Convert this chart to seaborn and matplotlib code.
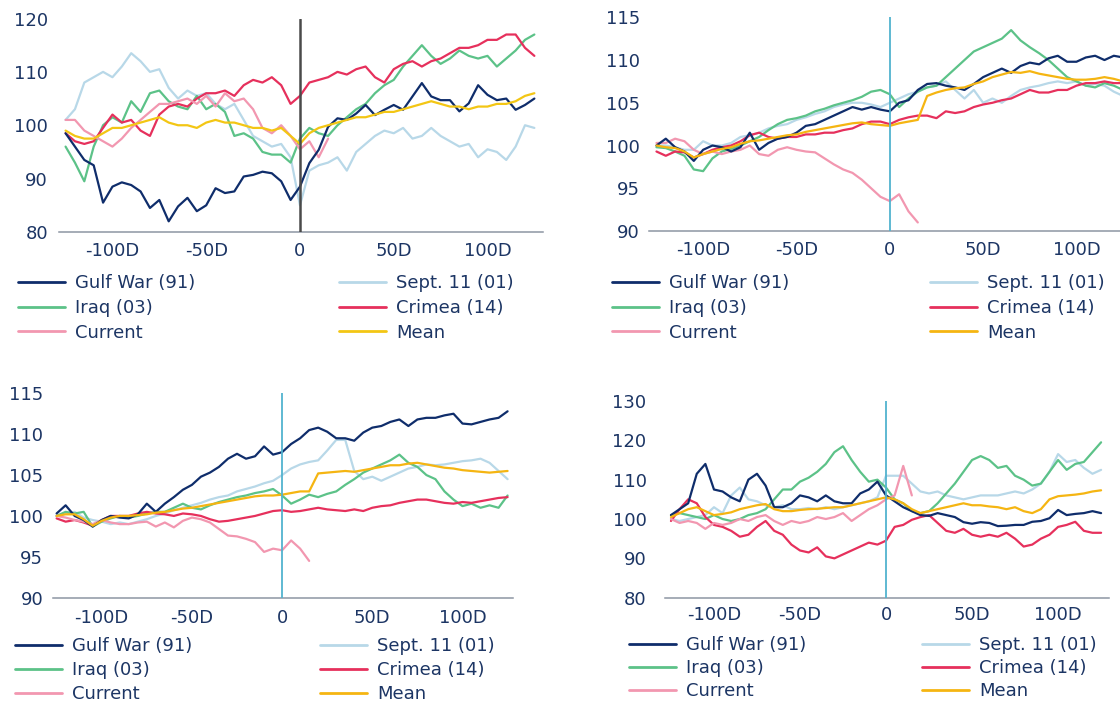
import pandas as pd
import seaborn as sns
import matplotlib.pyplot as plt
from matplotlib.lines import Line2D

sns.set_style("white")
plt.rcParams['font.family'] = ['DejaVu Sans']

# trading days around the event, read every 5 days
days = list(range(-125, 130, 5))
cur_days = list(range(-125, 20, 5))
xtick_pos = [-100, -50, 0, 50, 100]
xtick_lab = ['-100D', '-50D', '0', '50D', '100D']

# ---- panel 1 (top left)
p1_gulf = [98.5, 96.0, 93.5, 92.5, 85.5, 88.5, 89.3, 88.8, 87.6, 84.5,
           86.0, 82.0, 84.8, 86.4, 83.9, 85.0, 88.2, 87.3, 87.6, 90.4,
           90.7, 91.3, 91.0, 89.5, 86.0, 88.5, 92.9, 95.4, 99.7, 101.3,
           101.0, 102.2, 103.8, 101.9, 102.9, 103.8, 102.9, 105.4, 107.9, 105.4,
           104.7, 104.7, 102.6, 104.1, 107.5, 105.7, 104.7, 105.0, 102.9, 103.8,
           105.0]
p1_sept = [101, 103, 108, 109, 110, 109, 111, 113.5, 112, 110,
           110.5, 107, 105, 106.5, 105.5, 106, 104, 103, 104, 101,
           98, 97, 96, 96.5, 94, 85, 91.5, 92.5, 93, 94,
           91.5, 95, 96.5, 98, 99, 98.5, 99.5, 97.5, 98, 99.5,
           98, 97, 96, 96.5, 94, 95.5, 95, 93.5, 96, 100,
           99.5]
p1_iraq = [96, 93, 89.5, 96, 100, 101.5, 100.5, 104.5, 102.5, 106,
           106.5, 104.5, 103.5, 103, 105.5, 103, 104, 102.5, 98, 98.5,
           97.5, 95, 94.5, 94.5, 93, 97.5, 99.5, 98.5, 98, 100,
           101.5, 103, 104, 106, 107.5, 108.5, 111, 113, 115, 113,
           111.5, 112.5, 114, 113, 112.5, 113, 111, 112.5, 114, 116,
           117]
p1_crimea = [98.5, 97, 96.5, 97, 99.5, 102, 100.5, 101, 99, 98,
             102, 103.5, 104, 103.5, 105, 106, 106, 106.5, 105.5, 107.5,
             108.5, 108, 109, 107.5, 104, 105.5, 108, 108.5, 109, 110,
             109.5, 110.5, 111, 109, 108, 110.5, 111.5, 112, 111, 112,
             112.5, 113.5, 114.5, 114.5, 115, 116, 116, 117, 117, 114.5,
             113]
p1_current = [101, 101, 99, 98, 97, 96, 97.5, 99.5, 101, 102.5,
              104, 104, 104.5, 105, 104, 105.5, 103.5, 106, 104.5, 105,
              103, 99.5, 98.5, 100, 98, 95.5, 97, 94, 97.5]
p1_mean = [99, 98, 97.5, 97.5, 98.5, 99.5, 99.5, 100, 100.5, 101,
           101.5, 100.5, 100, 100, 99.5, 100.5, 101, 100.5, 100.5, 100,
           99.5, 99.5, 99, 99.5, 98, 96.5, 98.5, 99.5, 100, 100.5,
           101, 101.5, 101.5, 102, 102.5, 102.5, 103, 103.5, 104, 104.5,
           104, 103.5, 103.5, 103, 103.5, 103.5, 104, 104, 104.5, 105.5,
           106]

# ---- panel 2 (top right)
p2_gulf = [100, 100.8, 99.8, 99.3, 98.2, 99.5, 100, 99.8, 99.3, 99.8,
           101.5, 99.5, 100.3, 100.8, 101, 101.5, 102.3, 102.5, 103, 103.5,
           104, 104.5, 104.2, 104.5, 104.2, 104, 105, 105.3, 106.5, 107.2,
           107.3, 107, 106.8, 106.5, 107.2, 108, 108.5, 109, 108.5, 109.3,
           109.7, 109.5, 110.2, 110.5, 109.8, 109.8, 110.3, 110.5, 110, 110.5,
           110.3]
p2_sept = [100, 100, 99.8, 99.5, 99.5, 100.5, 100, 100, 100.3, 101,
           101.2, 101.5, 102, 102.3, 102.5, 103, 103.3, 103.7, 104, 104.5,
           104.8, 105, 105, 104.8, 104.5, 105, 105.5, 106, 106.3, 106.8,
           107, 107.5, 106.5, 105.5, 106.5, 105, 105.5, 105, 105.8, 106.5,
           106.8, 107, 107.3, 107.5, 107.3, 107.5, 107, 107.2, 107, 106.3,
           105.8]
p2_iraq = [99.8, 99.7, 99.3, 98.8, 97.2, 97, 98.5, 99.3, 99.6, 100,
           100.5, 101, 101.8, 102.5, 103, 103.2, 103.5, 104, 104.3, 104.7,
           105, 105.3, 105.7, 106.3, 106.5, 106, 104.5, 105.5, 106.3, 106.8,
           107, 108, 109, 110, 111, 111.5, 112, 112.5, 113.5, 112.3,
           111.5, 110.8, 110, 109, 108, 107.5, 107, 106.8, 107.3, 107,
           106.5]
p2_crimea = [99.3, 98.8, 99.3, 99.2, 98.6, 99, 99.5, 99.8, 100, 100.5,
             101.2, 101.5, 101, 100.8, 101, 101, 101.3, 101.3, 101.5, 101.5,
             101.8, 102, 102.5, 102.8, 102.8, 102.5, 103, 103.3, 103.5, 103.5,
             103.2, 104, 103.8, 104, 104.5, 104.8, 105, 105.3, 105.5, 106,
             106.5, 106.2, 106.2, 106.5, 106.5, 107, 107.3, 107.3, 107.5, 107.3,
             107.3]
p2_current = [100.3, 100.3, 100.8, 100.5, 99.5, 99, 99.3, 99, 99.3, 99.5,
              100, 99, 98.8, 99.5, 99.8, 99.5, 99.3, 99.2, 98.5, 97.8,
              97.2, 96.8, 96, 95, 94, 93.5, 94.3, 92.3, 91]
p2_mean = [100, 99.8, 99.7, 99.3, 98.6, 99, 99.3, 99.6, 99.8, 100.2,
           100.5, 100.6, 100.8, 101, 101.2, 101.3, 101.6, 101.8, 102, 102.2,
           102.4, 102.6, 102.7, 102.5, 102.4, 102.3, 102.6, 102.8, 103, 105.8,
           106.2, 106.5, 106.7, 106.8, 107.2, 107.5, 108, 108.3, 108.6, 108.5,
           108.7, 108.4, 108.2, 108, 107.8, 107.7, 107.7, 107.8, 108, 107.8,
           107.5]

# ---- panel 3 (bottom left)
p3_gulf = [100.3, 101.3, 100, 99.5, 98.7, 99.5, 100, 99.8, 99.7, 100.2,
           101.5, 100.5, 101.5, 102.3, 103.2, 103.8, 104.8, 105.3, 106, 107,
           107.6, 107, 107.3, 108.5, 107.5, 107.8, 108.8, 109.5, 110.5, 110.8,
           110.3, 109.5, 109.5, 109.2, 110.2, 110.8, 111, 111.5, 111.8, 111,
           111.8, 112, 112, 112.3, 112.5, 111.3, 111.2, 111.5, 111.8, 112,
           112.8]
p3_sept = [100, 100.3, 100.5, 99.8, 99.5, 99.3, 99, 99.2, 99, 99.3,
           99.6, 100, 100.3, 100.7, 101, 101.3, 101.6, 102, 102.3, 102.5,
           103, 103.3, 103.6, 104, 104.3, 105, 105.8, 106.3, 106.6, 106.8,
           108, 109.3, 109.3, 105.5, 104.5, 104.8, 104.3, 104.8, 105.3, 105.8,
           106, 106.3, 106.2, 106.3, 106.5, 106.7, 106.8, 107, 106.5, 105.5,
           104.5]
p3_iraq = [100, 100.5, 100.3, 100.5, 98.7, 99.3, 99.7, 100, 99.8, 100,
           100.3, 100.5, 100.5, 101, 101.5, 101, 100.8, 101.3, 101.7, 102,
           102.3, 102.5, 102.8, 103, 103.3, 102.5, 101.5, 102, 102.6, 102.3,
           102.7, 103, 103.8, 104.5, 105.3, 105.8, 106.3, 106.8, 107.5, 106.5,
           106, 105, 104.5, 103, 102, 101.2, 101.5, 101, 101.3, 101,
           102.5]
p3_crimea = [99.7, 99.3, 99.5, 99.2, 98.8, 99.5, 100, 100, 100, 100.3,
             100.5, 100.3, 100.2, 100, 100.3, 100.2, 100, 99.6, 99.3, 99.4,
             99.6, 99.8, 100, 100.3, 100.6, 100.7, 100.5, 100.6, 100.8, 101,
             100.8, 100.7, 100.6, 100.8, 100.6, 101, 101.2, 101.3, 101.6, 101.8,
             102, 102, 101.8, 101.6, 101.5, 101.7, 101.6, 101.8, 102, 102.2,
             102.3]
p3_current = [100, 99.8, 99.5, 99.3, 99, 99.5, 99.2, 99, 99, 99.2,
              99.3, 98.7, 99.2, 98.6, 99.4, 99.8, 99.6, 99.2, 98.4, 97.6,
              97.5, 97.2, 96.8, 95.6, 96, 95.8, 97, 96, 94.5]
p3_mean = [100, 100.2, 100.2, 99.6, 98.8, 99.4, 99.8, 100, 100, 100.1,
           100.2, 100.4, 100.5, 100.7, 100.9, 101, 101.2, 101.4, 101.6, 101.8,
           102, 102.2, 102.4, 102.5, 102.5, 102.6, 102.8, 103, 103, 105.2,
           105.3, 105.4, 105.5, 105.4, 105.6, 105.8, 106, 106.2, 106.2, 106.4,
           106.5, 106.3, 106.1, 105.9, 105.8, 105.6, 105.5, 105.4, 105.3, 105.4,
           105.5]

# ---- panel 4 (bottom right)
p4_gulf = [101, 102.5, 104, 111.5, 114, 107.5, 107, 105.5, 104.5, 110,
           111.5, 108.5, 103, 103, 104, 106, 105.5, 104.5, 106, 104.5,
           104, 104, 106.5, 107.5, 109.5, 106, 104.5, 103, 102, 101,
           100.8, 101.5, 101, 100.5, 99.2, 98.8, 99.2, 99, 98.2, 98.3,
           98.5, 98.5, 99.3, 99.5, 100.2, 102.3, 101, 101.3, 101.5, 102,
           101.5]
p4_sept = [100, 99.5, 100, 100.5, 101, 103, 101.5, 106, 108, 105,
           104.5, 103.5, 103, 103.5, 102.5, 102.5, 102.8, 102.5, 103, 102.5,
           103, 103.5, 104, 104.5, 105.5, 111, 111, 111, 109, 107,
           106.5, 107, 106, 105.5, 105, 105.5, 106, 106, 106, 106.5,
           107, 106.5, 107.5, 109, 112, 116.5, 114.5, 115, 113, 111.5,
           112.5]
p4_iraq = [101, 101.5, 101, 100.5, 100, 101, 100, 99.5, 100, 101,
           101.5, 102.5, 105, 107.5, 107.5, 109.5, 110.5, 112, 114, 117,
           118.5, 115, 112, 109.5, 110, 108, 105, 104, 102, 101.5,
           102, 104, 106.5, 109, 112, 115, 116, 115, 113, 113.5,
           111, 110, 108.5, 109, 112, 115, 112.5, 114, 114.5, 117,
           119.5]
p4_crimea = [99.5, 102.5, 105, 104, 100.5, 98.5, 98, 97, 95.5, 96,
             98, 99.5, 97, 96, 93.5, 92, 91.5, 92.8, 90.5, 90,
             91, 92, 93, 94, 93.5, 94.5, 98, 98.5, 99.8, 100.5,
             101, 99, 97, 96.5, 97.5, 96, 95.5, 96, 95.5, 96.5,
             95, 93, 93.5, 95, 96, 98, 98.5, 99.3, 97, 96.5,
             96.5]
p4_current = [100, 99, 99.5, 99, 97.5, 99, 98.5, 99, 100, 99.5,
              100.5, 101, 99.5, 98.5, 99.5, 99, 99.5, 100.5, 100, 100.5,
              101.5, 99.5, 101, 102.5, 103.5, 105, 106, 113.5, 106]
p4_mean = [100.5, 101.5, 102.5, 103, 102, 101, 101.3, 101.7, 102.5, 103,
           103.5, 103.8, 102.5, 102, 102, 102.3, 102.5, 102.6, 102.8, 103,
           103, 103.5, 104, 104.5, 105, 105.5, 105, 104, 102.5, 101.5,
           102, 102.5, 103, 103.5, 104, 103.5, 103.5, 103.2, 103, 102.5,
           103, 102, 101.5, 102.5, 105, 105.8, 106, 106.2, 106.5, 107,
           107.3]

W, H = 1120, 705
label_col = '#1c3564'
axis_col = '#8d96a3'
colors = {'Gulf War (91)': '#0f2d6b', 'Sept. 11 (01)': '#b8d8e8',
          'Iraq (03)': '#5cc288', 'Crimea (14)': '#e6305c',
          'Current': '#f297b0', 'Mean': '#f5b512'}
draw_order = ['Sept. 11 (01)', 'Iraq (03)', 'Crimea (14)', 'Current',
              'Gulf War (91)', 'Mean']


def panel_frame(gulf, sept, iraq, crimea, current, mean):
    parts = []
    for name, vals in [('Gulf War (91)', gulf), ('Sept. 11 (01)', sept),
                       ('Iraq (03)', iraq), ('Crimea (14)', crimea),
                       ('Current', current), ('Mean', mean)]:
        d = cur_days if name == 'Current' else days
        parts.append(pd.DataFrame({'day': d, 'value': vals, 'series': name}))
    return pd.concat(parts, ignore_index=True)


# (data, pixel box l/t/r/b, xlim, ylim, yticks, zero line colour, mean colour,
#  y pad, x pad, legend: left handle x, right handle x, middle row y, row spacing)
panels = [
    (panel_frame(p1_gulf, p1_sept, p1_iraq, p1_crimea, p1_current, p1_mean),
     (59, 18.5, 543, 232), (-128.5, 129.6), (80, 120), range(80, 121, 10),
     '#4a4a4a', '#f3c614', 8, 7, (18, 339, 308, 0.36)),
    (panel_frame(p2_gulf, p2_sept, p2_iraq, p2_crimea, p2_current, p2_mean),
     (649, 17.3, 1130.6, 231), (-129, 129), (90, 115), range(90, 116, 5),
     '#52b3cf', '#f5b512', 6.5, 7.5, (612, 930, 308, 0.36)),
    (panel_frame(p3_gulf, p3_sept, p3_iraq, p3_crimea, p3_current, p3_mean),
     (53, 393.3, 513, 597.7), (-127, 128), (90, 115), range(90, 116, 5),
     '#52b3cf', '#f5b512', 7, 8, (15, 320, 670, 0.33)),
    (panel_frame(p4_gulf, p4_sept, p4_iraq, p4_crimea, p4_current, p4_mean),
     (664.6, 401, 1109, 597.7), (-128.7, 129.6), (80, 130), range(80, 131, 10),
     '#52b3cf', '#f5b512', 13, 6, (629, 922, 668, 0.28)),
]

fig = plt.figure(figsize=(W / 100, H / 100), dpi=100)

for df, box, xl, yl, yt, zcol, mcol, ypad, xpad, leg in panels:
    l, t, r, b = box
    ax = fig.add_axes([l / W, 1 - b / H, (r - l) / W, (b - t) / H])
    pal = dict(colors)
    pal['Mean'] = mcol
    sns.lineplot(data=df, x='day', y='value', hue='series', hue_order=draw_order,
                 palette=pal, linewidth=1.6, estimator=None, legend=False, ax=ax)
    ax.axvline(0, color=zcol, lw=1.3 if zcol != '#4a4a4a' else 1.8, zorder=5)
    ax.set_xlim(*xl)
    ax.set_ylim(*yl)
    ax.set_xticks(xtick_pos)
    ax.set_xticklabels(xtick_lab)
    ax.set_yticks(list(yt))
    ax.set_xlabel('')
    ax.set_ylabel('')
    for s in ['top', 'right', 'left']:
        ax.spines[s].set_visible(False)
    ax.spines['bottom'].set_color(axis_col)
    ax.spines['bottom'].set_linewidth(1.1)
    ax.tick_params(axis='x', direction='in', length=4, width=1, color=axis_col,
                   labelsize=13, labelcolor=label_col, pad=xpad)
    ax.tick_params(axis='y', length=0, labelsize=13, labelcolor=label_col, pad=ypad)
    ax.patch.set_alpha(0)

    # two-column legend under each panel
    xl_left, xl_right, ymid, lspace = leg
    cols = [['Gulf War (91)', 'Iraq (03)', 'Current'],
            ['Sept. 11 (01)', 'Crimea (14)', 'Mean']]
    for x0, names in zip([xl_left, xl_right], cols):
        handles = [Line2D([], [], color=pal[n], lw=2) for n in names]
        fig.legend(handles, names, loc='center left',
                   bbox_to_anchor=(x0 / W, 1 - ymid / H), frameon=False,
                   borderpad=0, borderaxespad=0, handlelength=2.6,
                   handletextpad=0.55, labelspacing=lspace, fontsize=13,
                   labelcolor=label_col)

fig.savefig('out.png', dpi=100)
